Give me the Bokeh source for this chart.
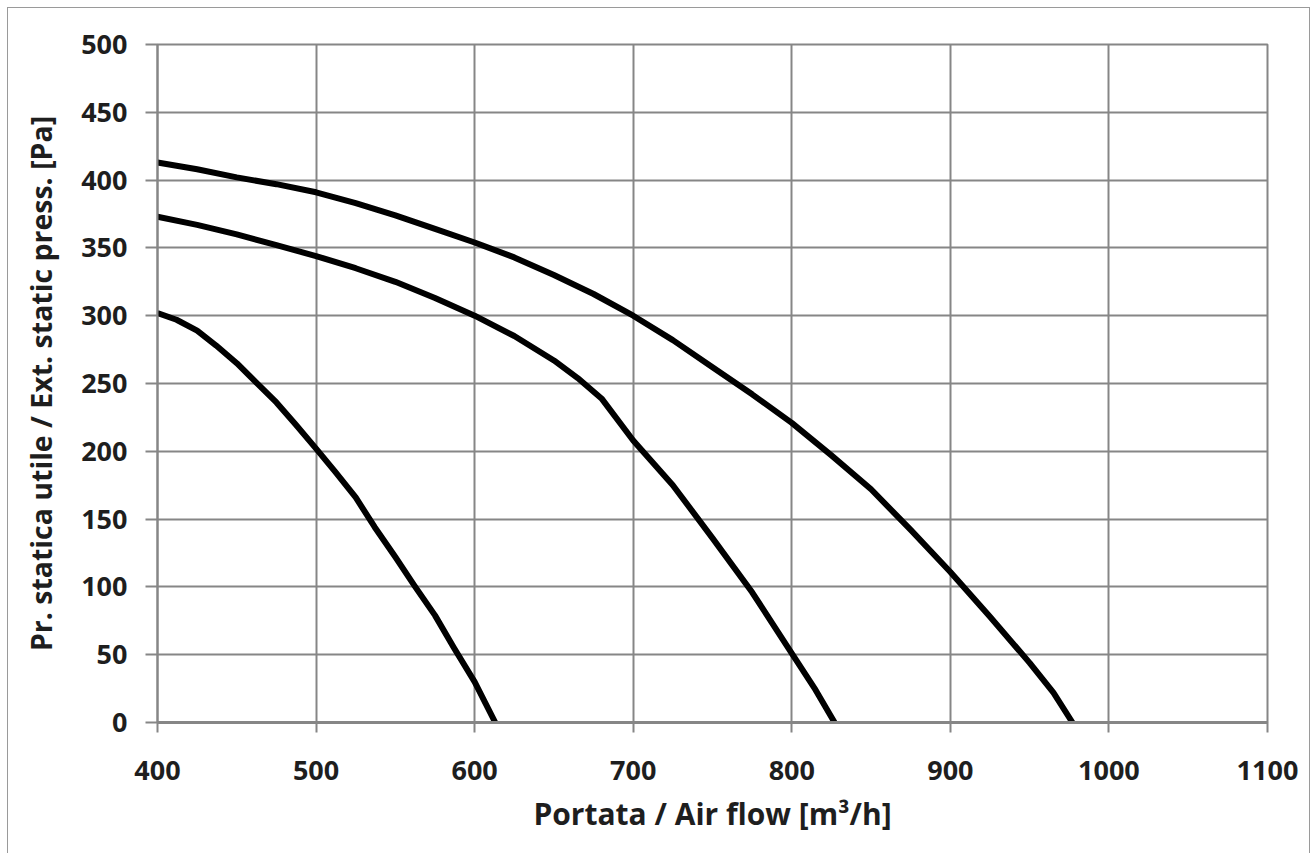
from bokeh.plotting import figure
from bokeh.models import Range1d, FixedTicker
from bokeh.embed import file_html
from bokeh.resources import INLINE

# ---- data ----
x_ticks = [400, 500, 600, 700, 800, 900, 1000, 1100]
y_ticks = [0, 50, 100, 150, 200, 250, 300, 350, 400, 450, 500]

high_x = [400, 425, 450, 475, 500, 525, 550, 575, 600, 625, 650, 675, 700, 725, 750,
          775, 800, 825, 850, 875, 900, 925, 950, 965, 977]
high_y = [413, 408, 402, 397, 391, 383, 374, 364, 354, 343, 330, 316, 300, 282, 262,
          242, 221, 197, 172, 142, 111, 78, 44, 22, 0]

mid_x = [400, 425, 450, 475, 500, 525, 550, 575, 600, 625, 650, 665, 680, 700, 725,
         750, 775, 800, 815, 827]
mid_y = [373, 367, 360, 352, 344, 335, 325, 313, 300, 285, 267, 254, 239, 208, 175,
         136, 96, 51, 24, 0]

low_x = [400, 412, 425, 437, 450, 462, 475, 487, 500, 512, 525, 537, 550, 562, 575,
         587, 600, 613]
low_y = [302, 297, 289, 278, 265, 251, 236, 220, 202, 185, 166, 144, 122, 101, 79,
         55, 30, 0]

x_label = "Portata / Air flow [m³/h]"
y_label = "Pr. statica utile / Ext. static press. [Pa]"

FONT = "Open Sans"
GRID = "#868686"
TXT = "#1e1e1e"

p = figure(width=1303, height=846, output_backend="svg", toolbar_location=None,
           x_range=Range1d(400, 1100), y_range=Range1d(0, 500),
           min_border_left=149, min_border_right=44, min_border_top=36, min_border_bottom=132)

p.styles = {"margin-left": "7px", "margin-top": "7px",
            "border-left": "1px solid #9a9a9a", "border-top": "1px solid #9a9a9a",
            "border-right": "1px solid #9a9a9a"}

p.outline_line_color = GRID
p.outline_line_width = 2
p.background_fill_color = "white"
p.border_fill_color = "white"

p.xaxis.ticker = FixedTicker(ticks=x_ticks)
p.yaxis.ticker = FixedTicker(ticks=y_ticks)
p.xgrid.ticker = FixedTicker(ticks=x_ticks)
p.ygrid.ticker = FixedTicker(ticks=y_ticks)
for g in (p.xgrid, p.ygrid):
    g.grid_line_color = GRID
    g.grid_line_width = 2

for ax in (p.xaxis, p.yaxis):
    ax.axis_line_color = GRID
    ax.major_tick_line_color = GRID
    ax.major_tick_line_width = 2
    ax.major_tick_in = 0
    ax.minor_tick_line_color = None
    ax.major_label_text_font = FONT
    ax.major_label_text_font_style = "bold"
    ax.major_label_text_font_size = "27px"
    ax.major_label_text_color = TXT
    ax.axis_label_text_font = FONT
    ax.axis_label_text_font_style = "bold"
    ax.axis_label_text_color = TXT

p.xaxis.axis_label_text_font_size = "30px"
p.yaxis.axis_label_text_font_size = "28.5px"
p.xaxis.axis_line_width = 3
p.yaxis.axis_line_width = 2
p.xaxis.major_tick_out = 10
p.yaxis.major_tick_out = 12
p.xaxis.major_label_standoff = 28
p.yaxis.major_label_standoff = 18
p.xaxis.axis_label = x_label
p.yaxis.axis_label = y_label
p.xaxis.axis_label_standoff = 10
p.yaxis.axis_label_standoff = 18

for xs, ys in ((high_x, high_y), (mid_x, mid_y), (low_x, low_y)):
    p.line(xs, ys, line_color="black", line_width=6, line_join="round", line_cap="butt")

open("out.html", "w").write(file_html(p, INLINE))
